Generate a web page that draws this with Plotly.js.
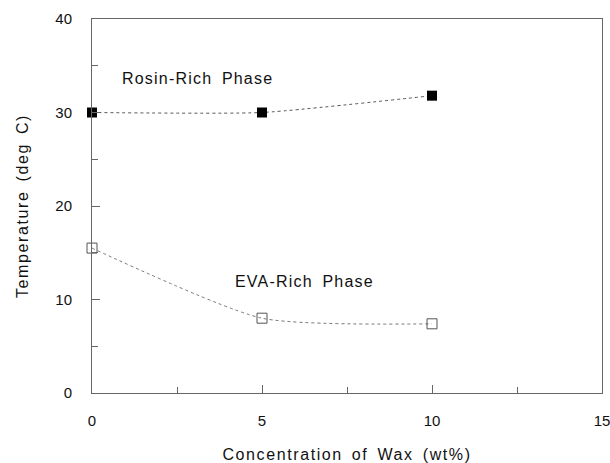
<!DOCTYPE html>
<html>
<head>
<meta charset="utf-8">
<script src="https://cdn.plot.ly/plotly-3.0.1.min.js"></script>
<style>
  html, body { margin: 0; padding: 0; background: #fff; }
  #chart { width: 610px; height: 463px; }
  .xtitle, .ytitle { letter-spacing: 1.6px; word-spacing: 3px; }
  .annotation-text { letter-spacing: 1.2px; word-spacing: 4px; }
</style>
</head>
<body>
<div id="chart"></div>
<script>
const waxConc = [0, 5, 10];
const rosinTemp = [30, 30, 31.8];
const evaTemp = [15.5, 8.0, 7.4];
const xTicks = [0, 5, 10, 15];
const yTicks = [0, 10, 20, 30, 40];
const labels = ["Rosin-Rich Phase", "EVA-Rich Phase"];

const traces = [
  {
    x: waxConc, y: rosinTemp, type: 'scatter', mode: 'lines+markers', cliponaxis: false,
    line: { shape: 'spline', smoothing: 0.5, color: '#555', width: 1, dash: 'dot' },
    marker: { symbol: 'square', size: 10, color: '#000' },
    showlegend: false, hoverinfo: 'skip'
  },
  {
    x: waxConc, y: evaTemp, type: 'scatter', mode: 'lines+markers', cliponaxis: false,
    line: { shape: 'spline', smoothing: 0.6, color: '#777', width: 1, dash: 'dot' },
    marker: { symbol: 'square-open', size: 10, color: '#555', line: { width: 1 } },
    showlegend: false, hoverinfo: 'skip'
  }
];

const font = { family: 'Liberation Sans, Arial, sans-serif', color: '#111' };

const layout = {
  width: 610, height: 463,
  margin: { l: 92, r: 8, t: 19, b: 70 },
  paper_bgcolor: '#fff', plot_bgcolor: '#fff',
  font: font,
  xaxis: {
    range: [0, 15], tickvals: xTicks, ticktext: xTicks.map(String),
    showgrid: false, zeroline: false,
    showline: true, mirror: true, linecolor: '#666', linewidth: 1,
    ticks: 'inside', ticklen: 8, tickcolor: '#666',
    minor: { ticks: 'inside', ticklen: 6, dtick: 2.5, tickcolor: '#666', showgrid: false },
    tickfont: { size: 15, family: font.family, color: '#111' },
    ticklabelstandoff: 14, ticklabeloverflow: 'allow',
    title: { text: 'Concentration of Wax (wt%)', font: { size: 16, family: font.family, color: '#111' }, standoff: 20 }
  },
  yaxis: {
    range: [0, 40], tickvals: yTicks, ticktext: yTicks.map(String),
    showgrid: false, zeroline: false,
    showline: true, mirror: true, linecolor: '#666', linewidth: 1,
    ticks: 'inside', ticklen: 8, tickcolor: '#666',
    minor: { ticks: 'inside', ticklen: 6, dtick: 5, tickcolor: '#666', showgrid: false },
    tickfont: { size: 15, family: font.family, color: '#111' },
    ticklabelstandoff: 16, ticklabeloverflow: 'allow',
    title: { text: 'Temperature (deg C)', font: { size: 16, family: font.family, color: '#111' }, standoff: 22 }
  },
  annotations: [
    { x: 3.1, y: 33.6, xref: 'x', yref: 'y', text: labels[0], showarrow: false,
      font: { size: 16, family: font.family, color: '#111' } },
    { x: 6.25, y: 11.9, xref: 'x', yref: 'y', text: labels[1], showarrow: false,
      font: { size: 16, family: font.family, color: '#111' } }
  ]
};

Plotly.newPlot('chart', traces, layout, { displayModeBar: false, staticPlot: true });
</script>
</body>
</html>
